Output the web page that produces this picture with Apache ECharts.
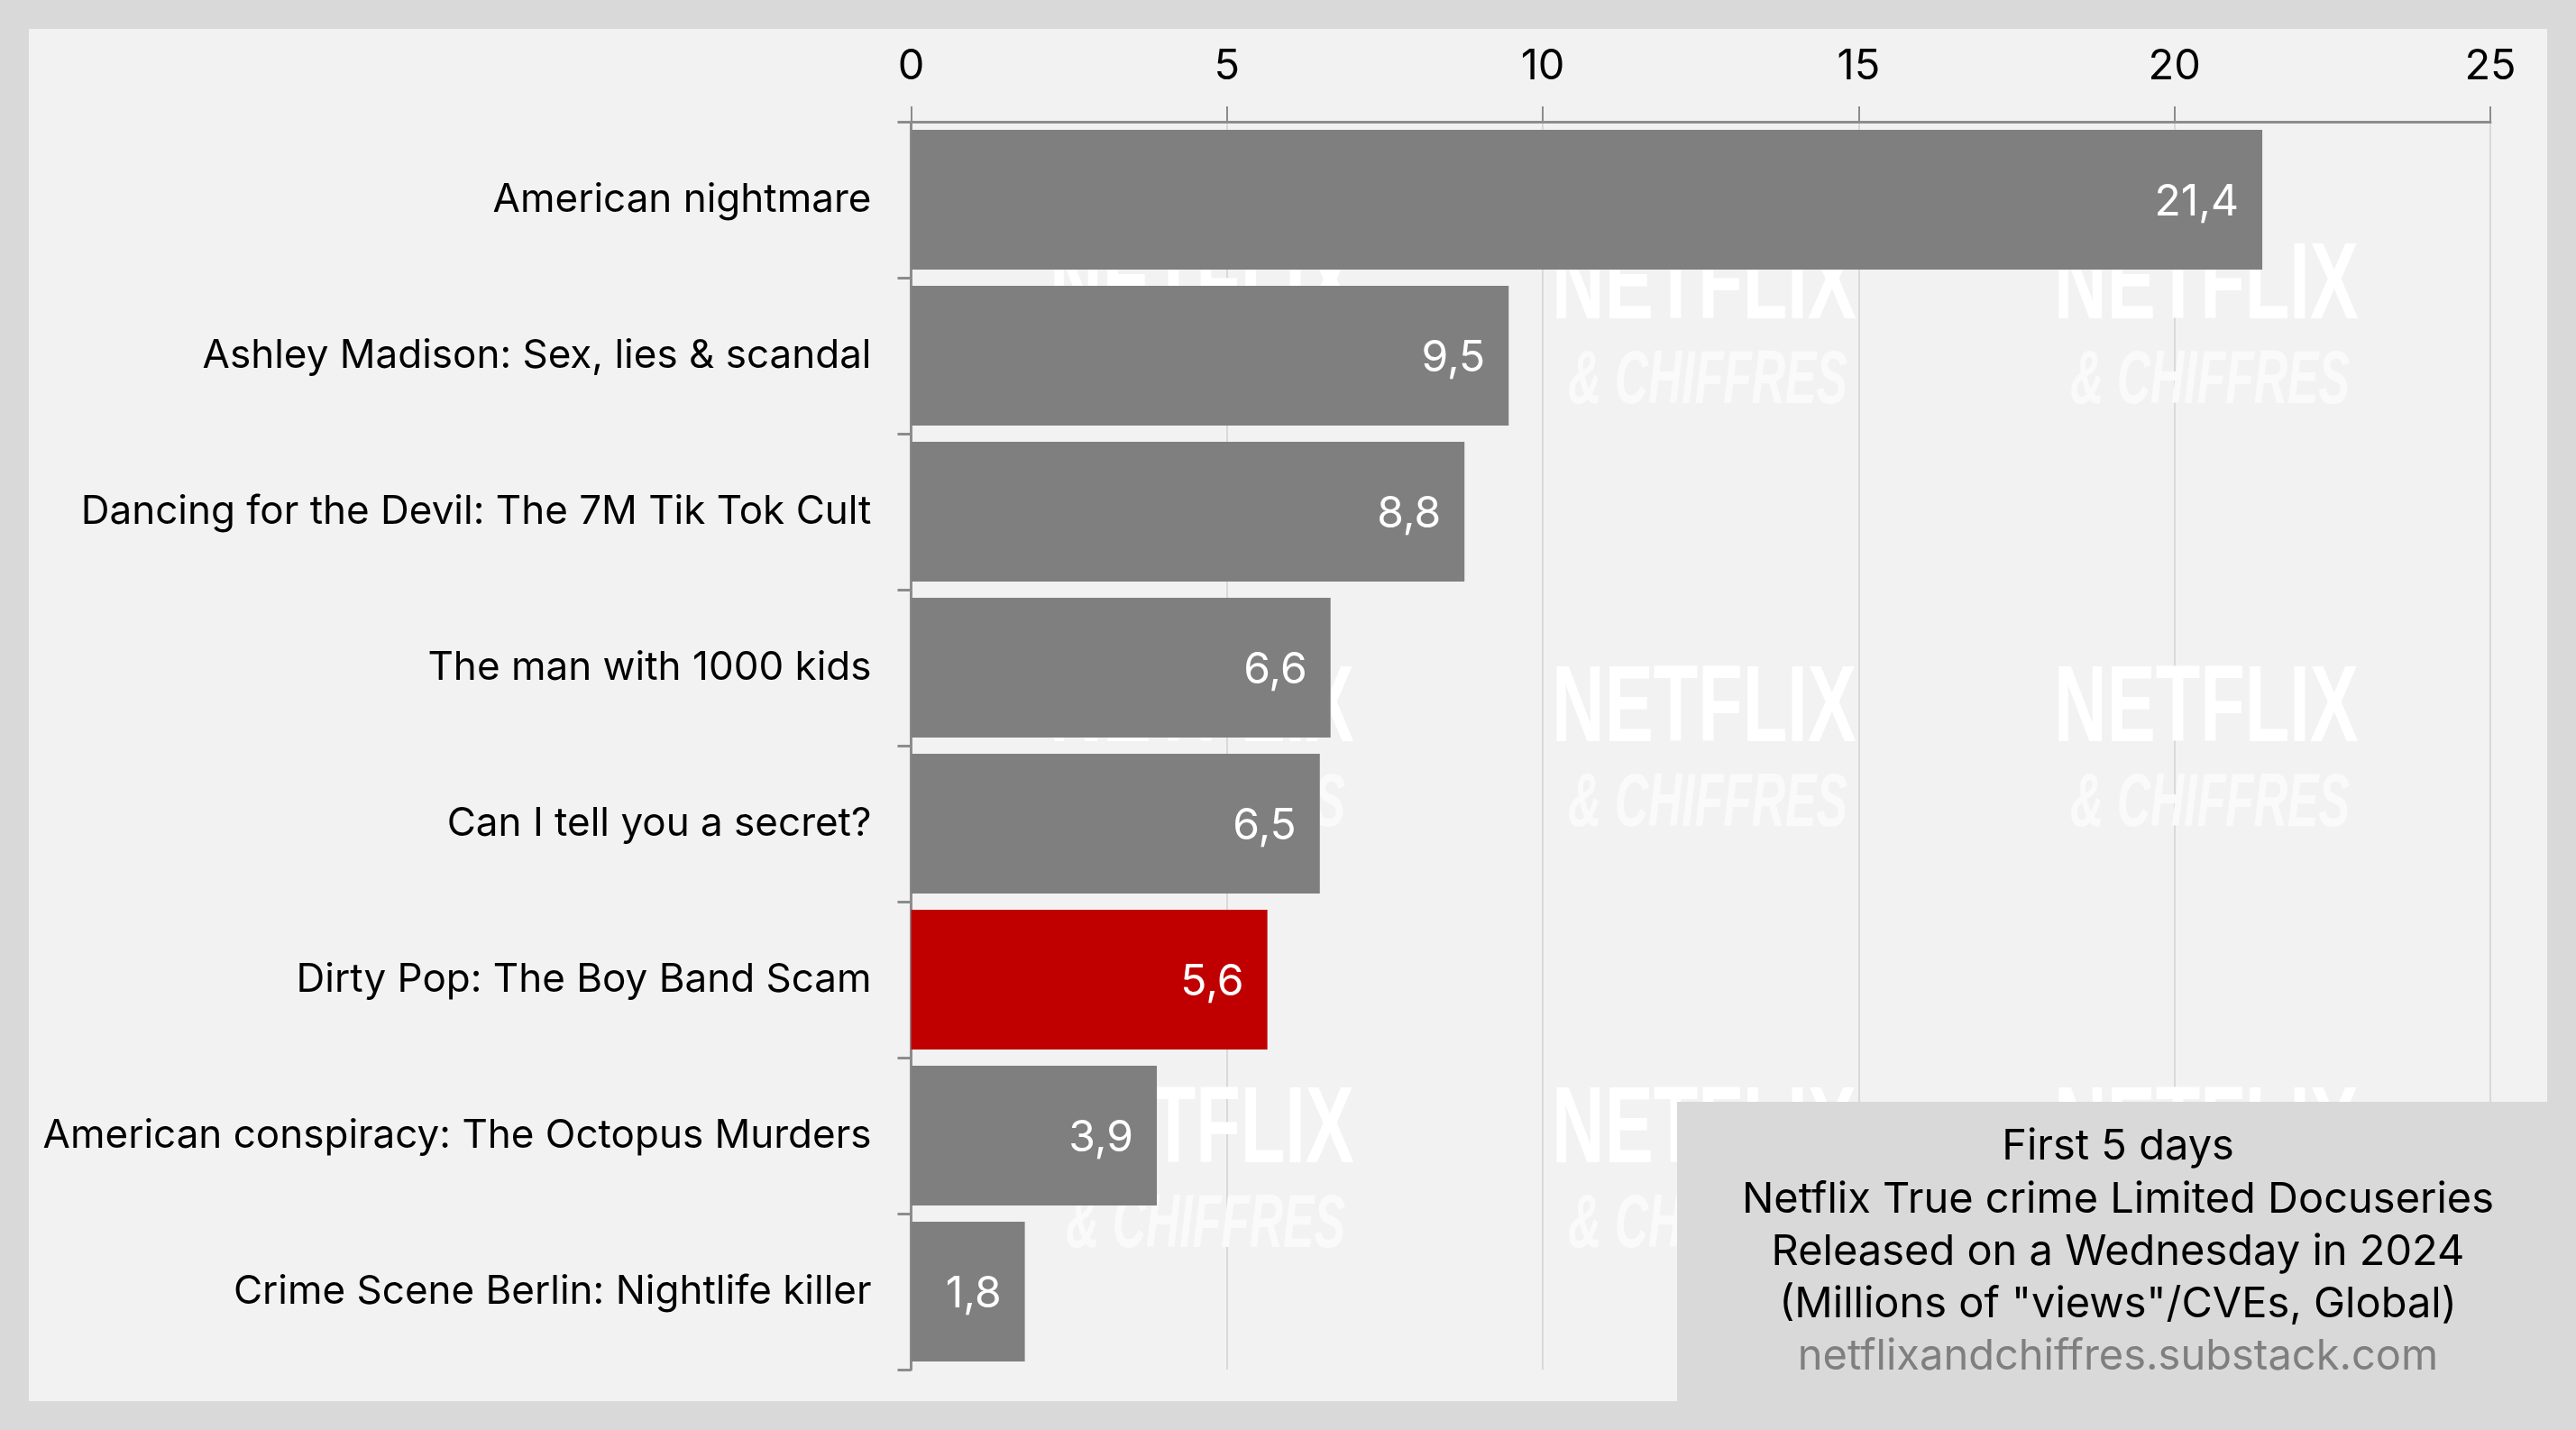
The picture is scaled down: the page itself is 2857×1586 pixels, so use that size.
<!DOCTYPE html>
<html><head><meta charset="utf-8">
<style>html,body{margin:0;padding:0;background:#d9d9d9}#c{width:2857px;height:1586px}</style>
<script src="https://cdn.jsdelivr.net/npm/echarts@6/dist/echarts.min.js"></script>
</head><body><div id="c"></div>
<script>
const categories = ["American nightmare","Ashley Madison: Sex, lies & scandal","Dancing for the Devil: The 7M Tik Tok Cult","The man with 1000 kids","Can I tell you a secret?","Dirty Pop: The Boy Band Scam","American conspiracy: The Octopus Murders","Crime Scene Berlin: Nightlife killer"];
const views = [21.39,9.46,8.76,6.64,6.47,5.64,3.89,1.8];
const valueLabels = ["21,4","9,5","8,8","6,6","6,5","5,6","3,9","1,8"];
const highlighted = "Dirty Pop: The Boy Band Scam";
const noteLines = ["First 5 days","Netflix True crime Limited Docuseries","Released on a Wednesday in 2024",'(Millions of "views"/CVEs, Global)'];
const noteSource = "netflixandchiffres.substack.com";
const FONT = "Inter";
const chart = echarts.init(document.getElementById('c'),null,{renderer:'canvas'});
const wmX=[1333,1890,2447], wmY=[320,789,1256];
const gfx=[{type:'rect',z:-5,shape:{x:32,y:32,width:2793,height:1522},style:{fill:'#f2f2f2'}}];
wmX.forEach(x=>wmY.forEach(y=>{
  gfx.push({type:'text',z:1,x:x,y:y,scaleX:0.67,style:{text:'NETFLIX',fill:'#ffffff',font:'bold 121px "Liberation Sans"',textAlign:'center',textVerticalAlign:'middle'}});
  gfx.push({type:'text',z:1,x:x+4,y:y+104,scaleX:0.615,style:{text:'& CHIFFRES',fill:'#fafafa',font:'italic bold 84px "Liberation Sans"',textAlign:'center',textVerticalAlign:'middle'}});
}));
gfx.push({type:'rect',z:20,shape:{x:1860,y:1222,width:965,height:364},style:{fill:'#d9d9d9'}});
noteLines.forEach((t,i)=>gfx.push({type:'text',z:21,x:2349,y:1272+i*58.4,style:{text:t,fill:'#000',font:'47px '+FONT,textAlign:'center',textVerticalAlign:'middle'}}));
gfx.push({type:'text',z:21,x:2349,y:1505,style:{text:noteSource,fill:'#7f7f7f',font:'47px '+FONT,textAlign:'center',textVerticalAlign:'middle'}});
chart.setOption({
  animation:false,
  backgroundColor:'#d9d9d9',
  graphic:gfx,
  grid:{left:1010.5,top:135,width:1751.5,height:1384,containLabel:false},
  xAxis:{type:'value',position:'top',min:0,max:25,interval:5,
    axisLine:{show:true,lineStyle:{color:'#8c8c8c',width:3}},
    axisTick:{show:true,length:17,lineStyle:{color:'#8c8c8c',width:2}},
    axisLabel:{color:'#000',fontFamily:FONT,fontSize:47,margin:38},
    splitLine:{show:true,lineStyle:{color:'#d9d9d9',width:2}}},
  yAxis:{type:'category',inverse:true,data:categories,
    axisLine:{show:true,lineStyle:{color:'#8c8c8c',width:3}},
    axisTick:{show:true,length:15,alignWithLabel:false,lineStyle:{color:'#8c8c8c',width:3}},
    axisLabel:{color:'#000',fontFamily:FONT,fontSize:44,margin:44,interval:0,padding:[7,0,0,0]},
    splitLine:{show:false}},
  series:[{type:'bar',z:5,barWidth:155,
    data:views.map((v,i)=>({value:v,itemStyle:{color:categories[i]===highlighted?'#c00000':'#7f7f7f'}})),
    label:{show:true,position:'insideRight',distance:26,offset:[0,3],color:'#fff',fontFamily:FONT,fontSize:48,
      formatter:p=>valueLabels[p.dataIndex]}}]
});
</script></body></html>
